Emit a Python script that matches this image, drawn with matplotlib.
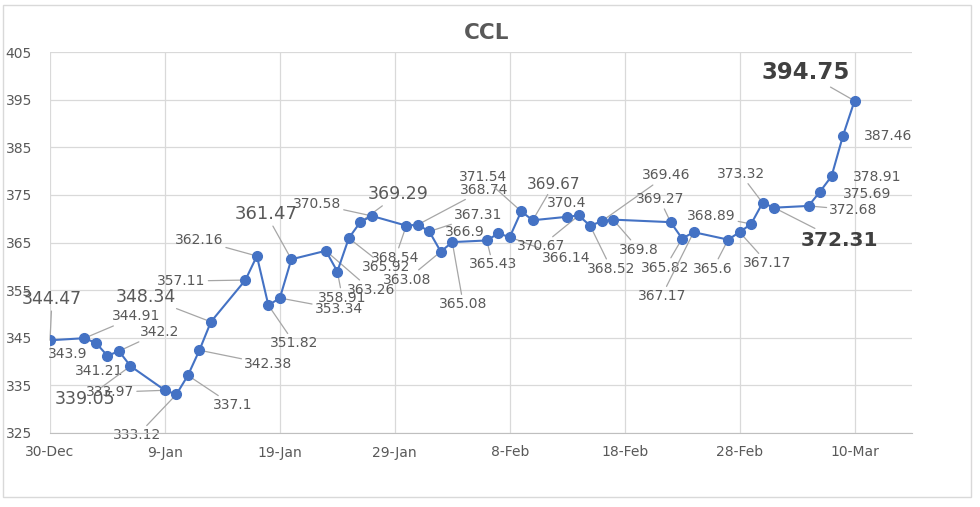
import matplotlib
matplotlib.use("Agg")
import matplotlib.pyplot as plt
import matplotlib.dates as mdates
from matplotlib.patches import Rectangle
import pandas as pd

# datos del CCL
dates = ["2022-12-30", "2023-01-02", "2023-01-03", "2023-01-04", "2023-01-05", "2023-01-06",
         "2023-01-09", "2023-01-10", "2023-01-11", "2023-01-12", "2023-01-13",
         "2023-01-16", "2023-01-17", "2023-01-18", "2023-01-19", "2023-01-20",
         "2023-01-23", "2023-01-24", "2023-01-25", "2023-01-26", "2023-01-27",
         "2023-01-30", "2023-01-31", "2023-02-01", "2023-02-02", "2023-02-03",
         "2023-02-06", "2023-02-07", "2023-02-08", "2023-02-09", "2023-02-10",
         "2023-02-13", "2023-02-14", "2023-02-15", "2023-02-16", "2023-02-17",
         "2023-02-22", "2023-02-23", "2023-02-24",
         "2023-02-27", "2023-02-28", "2023-03-01", "2023-03-02", "2023-03-03",
         "2023-03-06", "2023-03-07", "2023-03-08", "2023-03-09", "2023-03-10"]
values = [344.47, 344.91, 343.9, 341.21, 342.2, 339.05,
          333.97, 333.12, 337.1, 342.38, 348.34,
          357.11, 362.16, 351.82, 353.34, 361.47,
          363.26, 358.91, 365.92, 369.29, 370.58,
          368.54, 368.74, 367.31, 363.08, 365.08,
          365.43, 366.9, 366.14, 371.54, 369.67,
          370.4, 370.67, 368.52, 369.46, 369.8,
          369.27, 365.82, 367.17,
          365.6, 367.17, 368.89, 373.32, 372.31,
          372.68, 375.69, 378.91, 387.46, 394.75]
yticks = list(range(325, 406, 10))
xtick_dates = ["2022-12-30", "2023-01-09", "2023-01-19", "2023-01-29", "2023-02-08",
               "2023-02-18", "2023-02-28", "2023-03-10"]

# posicion de etiquetas (offset en pixeles respecto al punto)
label_dx = [2, 52, -28, -8, 41, -45, -55, -39, 45, 69, -65,
            -64, -58, 26, 59, -25, 45, 5, 37, 38, -55,
            -11, 66, 49, -34, 11, 6, -33, 56, -38, 21,
            -1, -38, 21, 65, 26, -11, -17, -32,
            -15, 28, -40, -22, 65, 45, 47, 46, 45, -49]
label_dy = [41, 22, -11, -15, 19, -33, -2, -41, -30, -14, 25,
            -1, 16, -38, -11, 45, -39, -26, -29, 28, 12,
            -32, 35, 16, -28, -62, -24, 1, -21, 34, 36,
            14, -31, -43, 46, -30, 23, -29, -64,
            -29, -31, 8, 29, -33, -4, -2, -1, 0, 28]
no_line = {2, 3, 27, 31, 45, 46, 47}
big = {0: 12.5, 5: 12.5, 10: 12.5, 15: 13, 19: 12.5, 30: 11}
bold = {43: 14.5, 48: 16.5}

x = pd.to_datetime(dates)

fig = plt.figure(figsize=(9.8, 5.07), dpi=100)
ax = fig.add_axes([50 / 980, 1 - 433 / 507, (912 - 50) / 980, (433 - 52) / 507])

ax.plot(x, values, color="#4472C4", lw=1.5, marker="o", ms=7, zorder=3)

for i, (d, v) in enumerate(zip(x, values)):
    size = 10
    weight = "normal"
    color = "#595959"
    if i in big:
        size = big[i]
    if i in bold:
        size = bold[i]
        weight = "bold"
        color = "#404040"
    arrow = None
    if i not in no_line:
        arrow = dict(arrowstyle="-", color="#a6a6a6", lw=0.9, shrinkA=0, shrinkB=0)
    ax.annotate(f"{v:g}", xy=(d, v), xytext=(label_dx[i], label_dy[i]),
                textcoords="offset pixels", ha="center", va="center",
                fontsize=size, fontweight=weight, color=color,
                arrowprops=arrow, zorder=2, annotation_clip=False)

ax.set_ylim(325, 405)
ax.set_yticks(yticks)
ax.set_xlim(pd.Timestamp("2022-12-30"), pd.Timestamp("2023-03-15"))
ax.set_xticks(pd.to_datetime(xtick_dates))
ax.xaxis.set_major_formatter(plt.FuncFormatter(
    lambda val, pos: f"{mdates.num2date(val).day}-{mdates.num2date(val).strftime('%b')}"))

ax.grid(True, color="#d9d9d9", lw=0.9)
ax.set_axisbelow(True)
for s in ["left", "right", "top"]:
    ax.spines[s].set_visible(False)
ax.spines["bottom"].set_color("#bfbfbf")
ax.tick_params(axis="both", length=0, labelsize=10, labelcolor="#595959")
ax.tick_params(axis="x", pad=9)
ax.tick_params(axis="y", pad=32)
for t in ax.get_yticklabels():
    t.set_horizontalalignment("left")

fig.text(487 / 980, 1 - 33 / 507, "CCL", ha="center", va="center",
         fontsize=15.5, fontweight="bold", color="#595959")

# marco del grafico
fig.patches.append(Rectangle((3 / 980, 1 - 497 / 507), 968 / 980, 492 / 507,
                             transform=fig.transFigure, fill=False,
                             edgecolor="#d9d9d9", lw=1))

fig.savefig("out.png", dpi=100)
